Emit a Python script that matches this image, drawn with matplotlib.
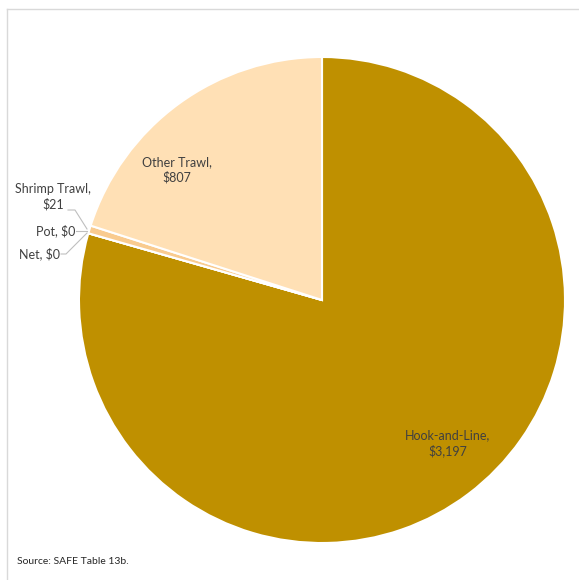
import matplotlib
matplotlib.use("Agg")
import matplotlib.pyplot as plt
from matplotlib.lines import Line2D

categories = ["Hook-and-Line", "Net", "Pot", "Shrimp Trawl", "Other Trawl"]
values = [3197, 0, 0, 21, 807]
value_labels = ["$3,197", "$0", "$0", "$21", "$807"]
colors = ["#BF9000", "#F4B183", "#F8CBAD", "#F9CB8F", "#FFE0B5"]

W, H = 579, 580
fig = plt.figure(figsize=(W / 100, H / 100), dpi=100)
plt.rcParams['font.family'] = ['Lato', 'DejaVu Sans']

cx, cy, r = 322, 300, 243
ax = fig.add_axes([(cx - r) / W, (H - cy - r) / H, 2 * r / W, 2 * r / H])
wedges, _ = ax.pie(values, colors=colors, startangle=90, counterclock=False,
                   radius=1.0, wedgeprops=dict(edgecolor="white", linewidth=1.5))
ax.set_xlim(-1, 1)
ax.set_ylim(-1, 1)
ax.set_aspect("auto")
ax.axis("off")

def px(x, y):
    return (x / W, 1 - y / H)

tc = "#404040"
fs = 9
# Other Trawl
fig.text(*px(177, 170), f"{categories[4]},\n{value_labels[4]}", ha="center", va="center",
         fontsize=fs, color=tc, linespacing=1.3)
# Hook-and-Line
fig.text(*px(448, 443), f"{categories[0]},\n{value_labels[0]}", ha="center", va="center",
         fontsize=fs, color=tc, linespacing=1.3)
# Shrimp Trawl
fig.text(*px(53, 197), f"{categories[3]},\n{value_labels[3]}", ha="center", va="center",
         fontsize=fs, color=tc, linespacing=1.3)
# Pot
fig.text(*px(75, 231), f"{categories[2]}, {value_labels[2]}", ha="right", va="center",
         fontsize=fs, color=tc)
# Net
fig.text(*px(60, 254), f"{categories[1]}, {value_labels[1]}", ha="right", va="center",
         fontsize=fs, color=tc)

lc = "#BFBFBF"
def seg(xs, ys):
    fig.add_artist(Line2D([x / W for x in xs], [1 - y / H for y in ys],
                          color=lc, linewidth=0.8, transform=fig.transFigure))

seg([68, 75, 87], [210, 210, 229])
seg([76, 87], [231, 231])
seg([61, 66, 87], [254, 254, 233])

# partial border (top and left)
fig.add_artist(Line2D([7 / W, 1], [1 - 9 / H, 1 - 9 / H], color="#D9D9D9", linewidth=1,
                      transform=fig.transFigure))
fig.add_artist(Line2D([7 / W, 7 / W], [0, 1 - 9 / H], color="#D9D9D9", linewidth=1,
                      transform=fig.transFigure))

fig.text(*px(17, 562), "Source: SAFE Table 13b.", ha="left", va="center",
         fontsize=7.5, color="#262626")

fig.savefig("out.png", dpi=100)
